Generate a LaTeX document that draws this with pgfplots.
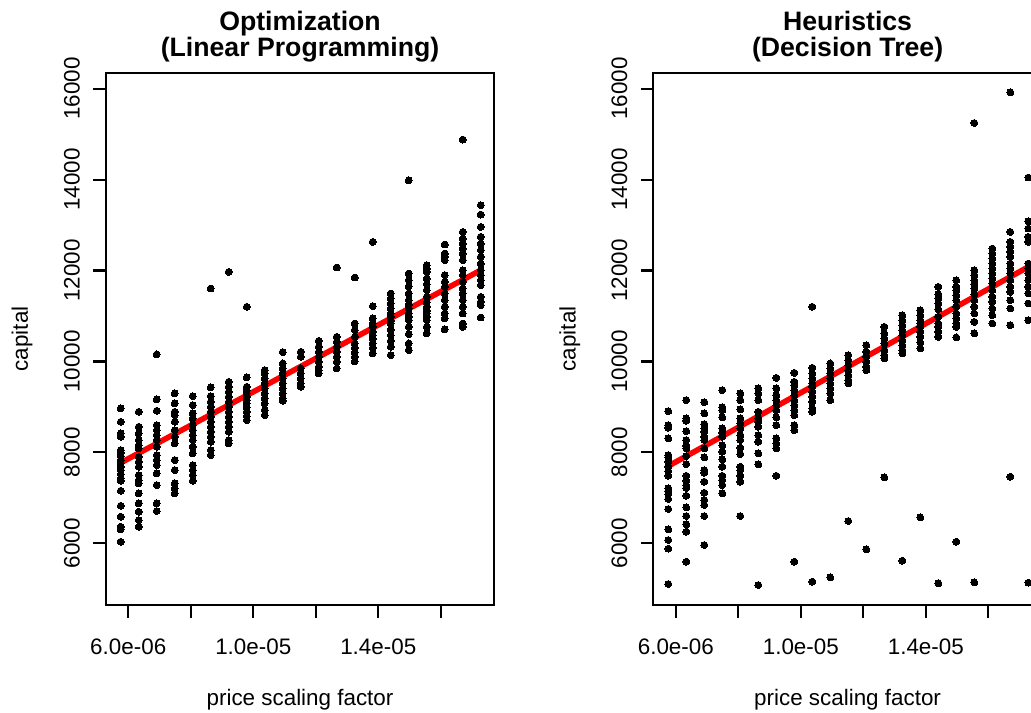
\documentclass[border=0pt]{standalone}
\usepackage{fontspec}
\setmainfont{Liberation Sans}
\usepackage{pgfplots}
\pgfplotsset{compat=1.18}
\newcommand\lblfont{\fontsize{16.8pt}{20pt}\selectfont}
\newcommand\ttlfont{\bfseries\fontsize{20pt}{24pt}\selectfont}
\pgfplotsset{rstyle/.style={
  scale only axis, width=291.45pt, height=399.2pt,
  xmin=5.28e-6, xmax=17.715e-6, ymin=4644, ymax=16350,
  axis line style={line width=1.6pt},
  every tick/.style={black, line width=1.6pt},
  tick align=outside, xtick pos=bottom, ytick pos=left,
  major tick length=9.4pt,
  scaled x ticks=false, scaled y ticks=false,
  xtick={6e-6,8e-6,1e-5,1.2e-5,1.4e-5,1.6e-5},
  xticklabels={6.0e-06,,1.0e-05,,1.4e-05,},
  ytick={6000,8000,10000,12000,14000,16000},
  yticklabels={6000,8000,10000,12000,14000,16000},
  ticklabel style={font=\lblfont},
  xticklabel style={anchor=north, inner sep=0pt, yshift=-15.6pt},
  yticklabel style={xshift=-9.9pt, rotate=90, anchor=south, inner sep=0pt},
  clip=false,
  pts/.style={only marks, mark=*, mark size=2.6pt, mark options={fill=black, draw=black, line width=0pt}},
  fit/.style={no marks, red, line width=4.2pt, line cap=round},
}}
\begin{document}
\begin{tikzpicture}
\begin{axis}[rstyle, at={(79.3pt,81pt)}, anchor=south west]
\addplot[pts] coordinates {
(5.76e-6,8967) (5.76e-6,8673) (5.76e-6,8418) (5.76e-6,8343) (5.76e-6,8051) (5.76e-6,7992) (5.76e-6,7919) (5.76e-6,7831) (5.76e-6,7758) (5.76e-6,7684) (5.76e-6,7611) (5.76e-6,7523) (5.76e-6,7428) (5.76e-6,7376) (5.76e-6,7156) (5.76e-6,6826) (5.76e-6,6585) (5.76e-6,6365) (5.76e-6,6307) (5.76e-6,6035)
(6.336e-6,8893) (6.336e-6,8563) (6.336e-6,8418) (6.336e-6,8271) (6.336e-6,8161) (6.336e-6,8088) (6.336e-6,7903) (6.336e-6,7794) (6.336e-6,7684) (6.336e-6,7501) (6.336e-6,7391) (6.336e-6,7319) (6.336e-6,7099) (6.336e-6,6879) (6.336e-6,6695) (6.336e-6,6512) (6.336e-6,6365)
(6.912e-6,10154) (6.912e-6,9165) (6.912e-6,8915) (6.912e-6,8600) (6.912e-6,8490) (6.912e-6,8380) (6.912e-6,8271) (6.912e-6,8124) (6.912e-6,7941) (6.912e-6,7831) (6.912e-6,7721) (6.912e-6,7538) (6.912e-6,7281) (6.912e-6,6879) (6.912e-6,6710)
(7.488e-6,9297) (7.488e-6,9077) (7.488e-6,8893) (7.488e-6,8820) (7.488e-6,8673) (7.488e-6,8490) (7.488e-6,8343) (7.488e-6,8198) (7.488e-6,7831) (7.488e-6,7611) (7.488e-6,7319) (7.488e-6,7209) (7.488e-6,7099)
(8.064e-6,9238) (8.064e-6,9040) (8.064e-6,8857) (8.064e-6,8748) (8.064e-6,8600) (8.064e-6,8490) (8.064e-6,8380) (8.064e-6,8271) (8.064e-6,8124) (8.064e-6,7978) (8.064e-6,7721) (8.064e-6,7611) (8.064e-6,7501) (8.064e-6,7376)
(8.64e-6,11605) (8.64e-6,9429) (8.64e-6,9238) (8.64e-6,9113) (8.64e-6,9003) (8.64e-6,8893) (8.64e-6,8783) (8.64e-6,8673) (8.64e-6,8563) (8.64e-6,8453) (8.64e-6,8343) (8.64e-6,8233) (8.64e-6,8051) (8.64e-6,7941)
(9.216e-6,11970) (9.216e-6,9553) (9.216e-6,9443) (9.216e-6,9333) (9.216e-6,9223) (9.216e-6,9113) (9.216e-6,9003) (9.216e-6,8893) (9.216e-6,8783) (9.216e-6,8673) (9.216e-6,8563) (9.216e-6,8453) (9.216e-6,8271) (9.216e-6,8198)
(9.792e-6,11202) (9.792e-6,9649) (9.792e-6,9443) (9.792e-6,9370) (9.792e-6,9297) (9.792e-6,9223) (9.792e-6,9150) (9.792e-6,9077) (9.792e-6,8989) (9.792e-6,8893) (9.792e-6,8798) (9.792e-6,8710)
(1.0368e-5,9809) (1.0368e-5,9736) (1.0368e-5,9626) (1.0368e-5,9517) (1.0368e-5,9407) (1.0368e-5,9297) (1.0368e-5,9187) (1.0368e-5,9077) (1.0368e-5,8930) (1.0368e-5,8820)
(1.0944e-5,10205) (1.0944e-5,9956) (1.0944e-5,9846) (1.0944e-5,9736) (1.0944e-5,9626) (1.0944e-5,9517) (1.0944e-5,9407) (1.0944e-5,9297) (1.0944e-5,9187) (1.0944e-5,9135)
(1.152e-5,10212) (1.152e-5,10102) (1.152e-5,9846) (1.152e-5,9736) (1.152e-5,9626) (1.152e-5,9517) (1.152e-5,9443)
(1.2096e-5,10454) (1.2096e-5,10322) (1.2096e-5,10212) (1.2096e-5,10102) (1.2096e-5,9992) (1.2096e-5,9882) (1.2096e-5,9809) (1.2096e-5,9736)
(1.2672e-5,12066) (1.2672e-5,10542) (1.2672e-5,10432) (1.2672e-5,10322) (1.2672e-5,10212) (1.2672e-5,10102) (1.2672e-5,9992) (1.2672e-5,9846)
(1.3248e-5,11846) (1.3248e-5,10835) (1.3248e-5,10688) (1.3248e-5,10542) (1.3248e-5,10396) (1.3248e-5,10300) (1.3248e-5,10200) (1.3248e-5,10100) (1.3248e-5,10000)
(1.3824e-5,12630) (1.3824e-5,11216) (1.3824e-5,10946) (1.3824e-5,10835) (1.3824e-5,10761) (1.3824e-5,10650) (1.3824e-5,10579) (1.3824e-5,10500) (1.3824e-5,10396) (1.3824e-5,10300) (1.3824e-5,10176)
(1.44e-5,11495) (1.44e-5,11385) (1.44e-5,11280) (1.44e-5,11165) (1.44e-5,11060) (1.44e-5,10982) (1.44e-5,10900) (1.44e-5,10835) (1.44e-5,10700) (1.44e-5,10579) (1.44e-5,10450) (1.44e-5,10322) (1.44e-5,10140)
(1.4976e-5,13985) (1.4976e-5,11935) (1.4976e-5,11788) (1.4976e-5,11650) (1.4976e-5,11495) (1.4976e-5,11348) (1.4976e-5,11250) (1.4976e-5,11165) (1.4976e-5,11055) (1.4976e-5,10980) (1.4976e-5,10908) (1.4976e-5,10761) (1.4976e-5,10600) (1.4976e-5,10396) (1.4976e-5,10249)
(1.5552e-5,12117) (1.5552e-5,12040) (1.5552e-5,11970) (1.5552e-5,11824) (1.5552e-5,11700) (1.5552e-5,11568) (1.5552e-5,11421) (1.5552e-5,11300) (1.5552e-5,11202) (1.5552e-5,11120) (1.5552e-5,11055) (1.5552e-5,10980) (1.5552e-5,10908) (1.5552e-5,10761) (1.5552e-5,10616)
(1.6128e-5,12572) (1.6128e-5,12374) (1.6128e-5,12300) (1.6128e-5,12227) (1.6128e-5,11900) (1.6128e-5,11751) (1.6128e-5,11641) (1.6128e-5,11495) (1.6128e-5,11350) (1.6128e-5,11202) (1.6128e-5,11055) (1.6128e-5,10946) (1.6128e-5,10704)
(1.6704e-5,14880) (1.6704e-5,12849) (1.6704e-5,12704) (1.6704e-5,12594) (1.6704e-5,12484) (1.6704e-5,12374) (1.6704e-5,12227) (1.6704e-5,12007) (1.6704e-5,11897) (1.6704e-5,11751) (1.6704e-5,11605) (1.6704e-5,11495) (1.6704e-5,11348) (1.6704e-5,11202) (1.6704e-5,11055) (1.6704e-5,10835) (1.6704e-5,10761)
(1.728e-5,13436) (1.728e-5,13231) (1.728e-5,12959) (1.728e-5,12740) (1.728e-5,12594) (1.728e-5,12447) (1.728e-5,12300) (1.728e-5,12154) (1.728e-5,12007) (1.728e-5,11897) (1.728e-5,11788) (1.728e-5,11678) (1.728e-5,11421) (1.728e-5,11311) (1.728e-5,11238) (1.728e-5,10967)
};
\addplot[fit] coordinates {(5.76e-6,7772) (1.728e-5,12007)};
\node[font=\ttlfont, anchor=base] at (rel axis cs:0.5,1) [yshift=12.5pt] {(Linear Programming)};
\node[font=\ttlfont, anchor=base] at (rel axis cs:0.5,1) [yshift=31.5pt] {Optimization};
\node[font=\lblfont, anchor=base] at (rel axis cs:0.5,0) [yshift=-75pt] {price scaling factor};
\node[font=\lblfont, anchor=base, xshift=-58.3pt, rotate=90] at (rel axis cs:0,0.5) {capital};
\end{axis}
\begin{axis}[rstyle, at={(489.98pt,81pt)}, anchor=south west]
\addplot[pts] coordinates {
(5.76e-6,8908) (5.76e-6,8600) (5.76e-6,8541) (5.76e-6,8308) (5.76e-6,7941) (5.76e-6,7890) (5.76e-6,7794) (5.76e-6,7684) (5.76e-6,7590) (5.76e-6,7486) (5.76e-6,7209) (5.76e-6,7150) (5.76e-6,7084) (5.76e-6,6974) (5.76e-6,6754) (5.76e-6,6307) (5.76e-6,6073) (5.76e-6,5883) (5.76e-6,5105)
(6.336e-6,9150) (6.336e-6,8748) (6.336e-6,8695) (6.336e-6,8468) (6.336e-6,8271) (6.336e-6,8146) (6.336e-6,8088) (6.336e-6,7919) (6.336e-6,7743) (6.336e-6,7486) (6.336e-6,7376) (6.336e-6,7275) (6.336e-6,7216) (6.336e-6,7046) (6.336e-6,6791) (6.336e-6,6600) (6.336e-6,6418) (6.336e-6,6255) (6.336e-6,5596)
(6.912e-6,9106) (6.912e-6,8857) (6.912e-6,8622) (6.912e-6,8528) (6.912e-6,8453) (6.912e-6,8343) (6.912e-6,8271) (6.912e-6,8088) (6.912e-6,7890) (6.912e-6,7611) (6.912e-6,7552) (6.912e-6,7354) (6.912e-6,7112) (6.912e-6,6952) (6.912e-6,6842) (6.912e-6,6600) (6.912e-6,5963)
(7.488e-6,9370) (7.488e-6,8989) (7.488e-6,8930) (7.488e-6,8769) (7.488e-6,8528) (7.488e-6,8431) (7.488e-6,8343) (7.488e-6,8154) (7.488e-6,8013) (7.488e-6,7846) (7.488e-6,7684) (7.488e-6,7486) (7.488e-6,7391) (7.488e-6,7281) (7.488e-6,7099)
(8.064e-6,9297) (8.064e-6,9150) (8.064e-6,8945) (8.064e-6,8748) (8.064e-6,8637) (8.064e-6,8528) (8.064e-6,8380) (8.064e-6,8271) (8.064e-6,8102) (8.064e-6,7963) (8.064e-6,7684) (8.064e-6,7611) (8.064e-6,7486) (8.064e-6,7354) (8.064e-6,6600)
(8.64e-6,9407) (8.64e-6,9297) (8.64e-6,9150) (8.64e-6,8893) (8.64e-6,8748) (8.64e-6,8673) (8.64e-6,8563) (8.64e-6,8380) (8.64e-6,8233) (8.64e-6,7978) (8.64e-6,7736) (8.64e-6,5083)
(9.216e-6,9640) (9.216e-6,9407) (9.216e-6,9260) (9.216e-6,9150) (9.216e-6,9040) (9.216e-6,8930) (9.216e-6,8769) (9.216e-6,8600) (9.216e-6,8308) (9.216e-6,8198) (9.216e-6,8088) (9.216e-6,7486)
(9.792e-6,9750) (9.792e-6,9553) (9.792e-6,9480) (9.792e-6,9370) (9.792e-6,9260) (9.792e-6,9150) (9.792e-6,9040) (9.792e-6,8930) (9.792e-6,8820) (9.792e-6,8600) (9.792e-6,8490) (9.792e-6,5596)
(1.0368e-5,11202) (1.0368e-5,9860) (1.0368e-5,9736) (1.0368e-5,9626) (1.0368e-5,9517) (1.0368e-5,9443) (1.0368e-5,9333) (1.0368e-5,9223) (1.0368e-5,9113) (1.0368e-5,8967) (1.0368e-5,8893) (1.0368e-5,5157)
(1.0944e-5,9956) (1.0944e-5,9846) (1.0944e-5,9736) (1.0944e-5,9626) (1.0944e-5,9517) (1.0944e-5,9407) (1.0944e-5,9297) (1.0944e-5,9150) (1.0944e-5,5253)
(1.152e-5,10140) (1.152e-5,10030) (1.152e-5,9921) (1.152e-5,9809) (1.152e-5,9699) (1.152e-5,9590) (1.152e-5,9517) (1.152e-5,6490)
(1.2096e-5,10359) (1.2096e-5,10212) (1.2096e-5,10102) (1.2096e-5,9992) (1.2096e-5,9882) (1.2096e-5,9809) (1.2096e-5,5868)
(1.2672e-5,10761) (1.2672e-5,10616) (1.2672e-5,10506) (1.2672e-5,10396) (1.2672e-5,10249) (1.2672e-5,10140) (1.2672e-5,10066) (1.2672e-5,7451)
(1.3248e-5,11018) (1.3248e-5,10908) (1.3248e-5,10798) (1.3248e-5,10688) (1.3248e-5,10579) (1.3248e-5,10469) (1.3248e-5,10359) (1.3248e-5,10249) (1.3248e-5,10176) (1.3248e-5,5618)
(1.3824e-5,11128) (1.3824e-5,11018) (1.3824e-5,10908) (1.3824e-5,10835) (1.3824e-5,10761) (1.3824e-5,10652) (1.3824e-5,10542) (1.3824e-5,10420) (1.3824e-5,10286) (1.3824e-5,6571)
(1.44e-5,11641) (1.44e-5,11480) (1.44e-5,11385) (1.44e-5,11275) (1.44e-5,11150) (1.44e-5,10982) (1.44e-5,10835) (1.44e-5,10761) (1.44e-5,10652) (1.44e-5,10542) (1.44e-5,5121)
(1.4976e-5,11788) (1.4976e-5,11641) (1.4976e-5,11568) (1.4976e-5,11458) (1.4976e-5,11348) (1.4976e-5,11202) (1.4976e-5,11055) (1.4976e-5,10946) (1.4976e-5,10835) (1.4976e-5,10761) (1.4976e-5,10528) (1.4976e-5,6035)
(1.5552e-5,15245) (1.5552e-5,12007) (1.5552e-5,11897) (1.5552e-5,11788) (1.5552e-5,11700) (1.5552e-5,11605) (1.5552e-5,11480) (1.5552e-5,11348) (1.5552e-5,11202) (1.5552e-5,11055) (1.5552e-5,10871) (1.5552e-5,10616) (1.5552e-5,5143)
(1.6128e-5,12484) (1.6128e-5,12374) (1.6128e-5,12264) (1.6128e-5,12154) (1.6128e-5,12044) (1.6128e-5,11935) (1.6128e-5,11824) (1.6128e-5,11714) (1.6128e-5,11568) (1.6128e-5,11421) (1.6128e-5,11311) (1.6128e-5,11165) (1.6128e-5,11018) (1.6128e-5,10835)
(1.6704e-5,15920) (1.6704e-5,12849) (1.6704e-5,12630) (1.6704e-5,12520) (1.6704e-5,12410) (1.6704e-5,12300) (1.6704e-5,12154) (1.6704e-5,12044) (1.6704e-5,11935) (1.6704e-5,11788) (1.6704e-5,11641) (1.6704e-5,11531) (1.6704e-5,11348) (1.6704e-5,11165) (1.6704e-5,10798) (1.6704e-5,7464)
(1.728e-5,14045) (1.728e-5,13084) (1.728e-5,12924) (1.728e-5,12740) (1.728e-5,12630) (1.728e-5,12154) (1.728e-5,12044) (1.728e-5,11935) (1.728e-5,11788) (1.728e-5,11641) (1.728e-5,11495) (1.728e-5,11275) (1.728e-5,10908) (1.728e-5,5136)
};
\addplot[fit] coordinates {(5.76e-6,7699) (1.728e-5,12080)};
\node[font=\ttlfont, anchor=base] at (rel axis cs:0.5,1) [yshift=12.5pt] {(Decision Tree)};
\node[font=\ttlfont, anchor=base] at (rel axis cs:0.5,1) [yshift=31.5pt] {Heuristics};
\node[font=\lblfont, anchor=base] at (rel axis cs:0.5,0) [yshift=-75pt] {price scaling factor};
\node[font=\lblfont, anchor=base, xshift=-58.3pt, rotate=90] at (rel axis cs:0,0.5) {capital};
\end{axis}
\pgfresetboundingbox
\path[use as bounding box] (0,0) rectangle (773.25pt,534.75pt);
\end{tikzpicture}
\end{document}
